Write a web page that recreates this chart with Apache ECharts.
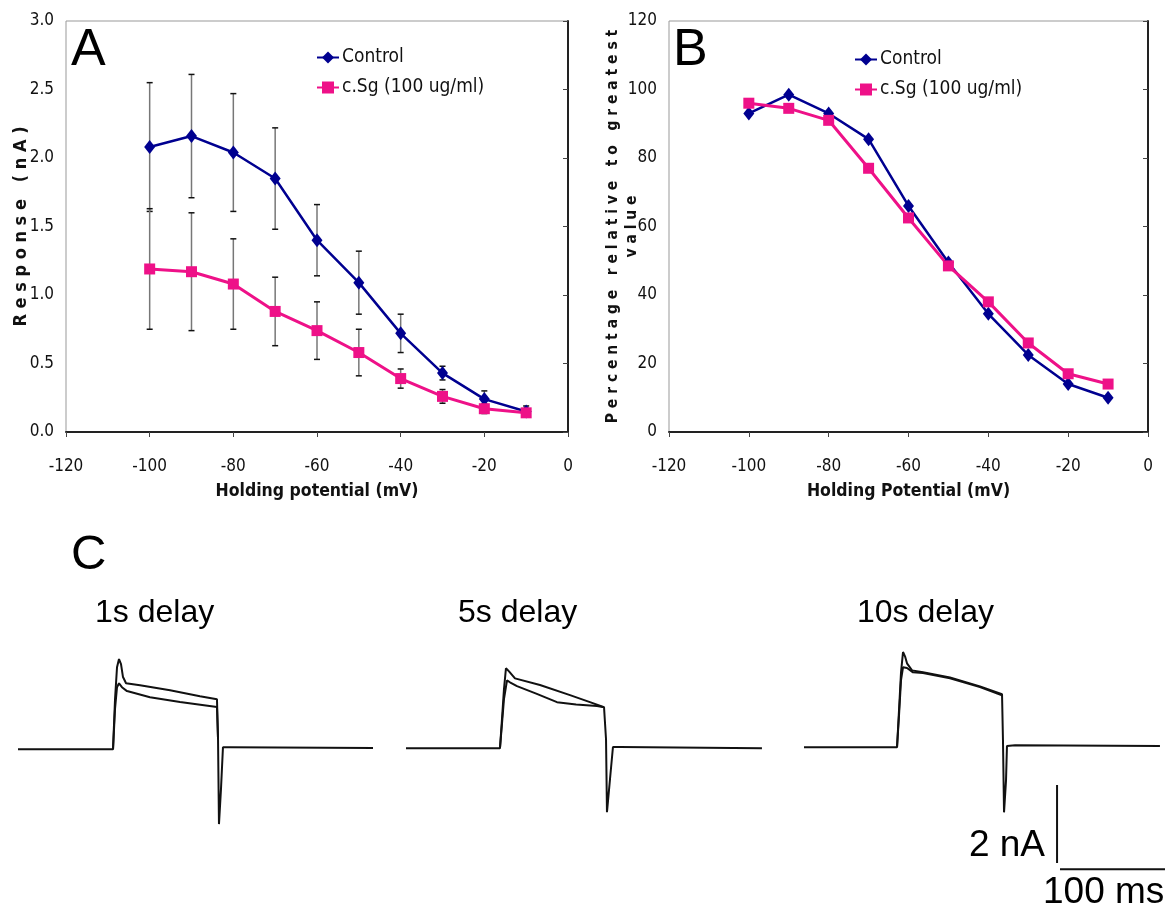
<!DOCTYPE html>
<html>
<head>
<meta charset="utf-8">
<script src="https://cdn.jsdelivr.net/npm/echarts@6/dist/echarts.min.js"></script>
<style>
html,body{margin:0;padding:0;background:#fff;}
#main{width:1171px;height:909px;}
</style>
</head>
<body>
<div id="main"></div>
<script>
// holding potentials (mV)
var potentials = [-100, -90, -80, -70, -60, -50, -40, -30, -20, -10];

// panel A: response (nA) with error bars
var ctrlResp = [2.08, 2.16, 2.04, 1.85, 1.40, 1.09, 0.72, 0.43, 0.24, 0.15];
var ctrlErr  = [0.47, 0.45, 0.43, 0.37, 0.26, 0.23, 0.14, 0.05, 0.06, 0.04];
var sgResp   = [1.19, 1.17, 1.08, 0.88, 0.74, 0.58, 0.39, 0.26, 0.17, 0.14];
var sgErr    = [0.44, 0.43, 0.33, 0.25, 0.21, 0.17, 0.07, 0.05, 0.035, 0.03];

// panel B: percentage relative to greatest value
var ctrlPct = [93, 98.5, 93, 85.5, 66, 49.5, 34.5, 22.5, 14, 10];
var sgPct   = [96, 94.5, 91, 77, 62.5, 48.5, 38, 26, 17, 14];

// panel C: current traces, [time ms, current nA]
var t1a = [[0,0],[90.5,0],[92.4,1.28],[94.3,2.10],[96.2,2.31],[98.1,2.18],[100,1.85],[102.9,1.69],[116.2,1.64],[144.8,1.51],[173.3,1.36],[189.5,1.28],[190.5,0.26],[191.4,-1.92],[193.3,-1.03],[195.2,0.05],[201.9,0.05],[338.1,0.03]];
var t1b = [[90.5,0],[92.4,1.03],[94.3,1.59],[96.2,1.69],[99,1.59],[103.8,1.49],[125.7,1.33],[154.3,1.21],[189.5,1.08],[190.5,0.26]];
var t2a = [[0,0],[89.5,0],[91.4,0.74],[93.3,1.51],[95.2,2.05],[98.1,1.97],[103.8,1.79],[127.6,1.62],[156.2,1.36],[175.2,1.18],[188.6,1.05],[190.5,0.23],[191.4,-1.64],[194.3,-0.79],[197.1,0.03],[203.8,0.03],[339,0]];
var t2b = [[89.5,0],[91.4,0.62],[93.3,1.26],[96.2,1.74],[99,1.69],[105.7,1.59],[124,1.40],[143.8,1.18],[162,1.12],[181.9,1.08],[188.6,1.05]];
var t3a = [[0,0],[88.6,0],[90.5,0.95],[92.4,1.92],[94.3,2.44],[96.2,2.33],[98.1,2.15],[102.9,1.97],[113.3,1.92],[139,1.79],[167.6,1.56],[188.6,1.36],[189.5,0.18],[190.5,-1.67],[192.4,-0.85],[193.3,0.03],[201,0.05],[339,0.03]];
var t3b = [[88.6,0],[90.5,0.82],[92.4,1.72],[94.3,2.05],[98.1,2.03],[103.8,1.92],[113.3,1.90],[139,1.77],[167.6,1.54],[188.6,1.33]];

// scale bar: 2 nA vertical, 100 ms horizontal
var barV = [[241,-0.97],[241,-2.97]];
var barH = [[243.8,-3.13],[343.8,-3.13]];

var tickFont = 'DejaVu Sans Condensed';
var blue = '#000090', pink = '#ee1188';

function pairs(ys){
    return potentials.map(function(x,i){ return [x, ys[i]]; });
}
function errData(ys, es){
    return potentials.map(function(x,i){ return [x, ys[i]-es[i], ys[i]+es[i]]; });
}
function renderErr(params, api){
    var x = api.value(0);
    var lo = api.coord([x, api.value(1)]);
    var hi = api.coord([x, api.value(2)]);
    return {type:'group', children:[
        {type:'line', shape:{x1:lo[0],y1:lo[1],x2:hi[0],y2:hi[1]}, style:{stroke:'#777',lineWidth:1.5}},
        {type:'line', shape:{x1:hi[0]-3,y1:hi[1],x2:hi[0]+3,y2:hi[1]}, style:{stroke:'#111',lineWidth:1.5}},
        {type:'line', shape:{x1:lo[0]-3,y1:lo[1],x2:lo[0]+3,y2:lo[1]}, style:{stroke:'#111',lineWidth:1.5}}
    ]};
}

function xAx(idx){
    return {
        type:'value', gridIndex:idx, min:-120, max:0, interval:20,
        name: idx==0 ? 'Holding potential (mV)' : 'Holding Potential (mV)',
        nameLocation:'middle', nameGap:50, nameMoveOverlap:false,
        nameTextStyle:{fontFamily:tickFont, fontWeight:'bold', fontSize:17.5, color:'#111'},
        axisLine:{lineStyle:{color:'#222', width:2}},
        axisTick:{show:true, length:5, lineStyle:{color:'#444', width:1}},
        axisLabel:{fontFamily:tickFont, fontSize:17, color:'#111', margin:26},
        splitLine:{show:false}
    };
}
function trAxX(idx){
    return {type:'value', gridIndex:idx, min:0, max:346, show:false};
}
function trAxY(idx){
    return {type:'value', gridIndex:idx, min:-3.5, max:2.8, show:false};
}
function trace(idx, data, name){
    return {type:'line', name:name, xAxisIndex:idx, yAxisIndex:idx, data:data, showSymbol:false,
        lineStyle:{color:'#111', width:2}, silent:true, clip:false};
}
function legendAt(left, top){
    return {orient:'vertical', left:left, top:top, itemWidth:22, itemHeight:15, itemGap:11,
        data:['Control','c.Sg (100 ug/ml)'],
        textStyle:{fontFamily:tickFont, fontSize:19, color:'#111', padding:[0,0,0,-2]}};
}

var myChart = echarts.init(document.getElementById('main'));
var option = {
    animation:false,
    backgroundColor:'#fff',
    grid:[
        {left:66, top:21, width:502, height:411, show:true, borderColor:'#999', borderWidth:1},
        {left:669, top:21, width:479, height:411, show:true, borderColor:'#999', borderWidth:1},
        {left:18, top:640, width:363.3, height:245.7},
        {left:406, top:639, width:363.3, height:245.7},
        {left:804, top:638, width:363.3, height:245.7}
    ],
    legend:[legendAt(311, 43), legendAt(849, 45)],
    xAxis:[xAx(0), xAx(1), trAxX(2), trAxX(3), trAxX(4)],
    yAxis:[
        {type:'value', gridIndex:0, min:0, max:3, interval:0.5,
            name:'R e s p o n s e   ( n A )', nameLocation:'middle', nameGap:36, nameRotate:90, nameMoveOverlap:false,
            nameTextStyle:{fontFamily:tickFont, fontWeight:'bold', fontSize:18, color:'#111'},
            axisLine:{show:true, lineStyle:{color:'#222', width:2}},
            axisTick:{show:true, length:5, lineStyle:{color:'#444'}},
            axisLabel:{fontFamily:tickFont, fontSize:17, color:'#111', margin:12, formatter:function(v){ return v.toFixed(1); }},
            splitLine:{show:false}},
        {type:'value', gridIndex:1, min:0, max:120, interval:20,
            name:'P e r c e n t a g e   r e l a t i v e   t o   g r e a t e s t\nv a l u e', nameLocation:'middle', nameGap:28, nameRotate:90, nameMoveOverlap:false,
            nameTextStyle:{fontFamily:tickFont, fontWeight:'bold', fontSize:15.5, color:'#111', lineHeight:19},
            axisLine:{show:true, lineStyle:{color:'#222', width:2}},
            axisTick:{show:true, length:5, lineStyle:{color:'#444'}},
            axisLabel:{fontFamily:tickFont, fontSize:17, color:'#111', margin:12},
            splitLine:{show:false}},
        trAxY(2), trAxY(3), trAxY(4)
    ],
    graphic:[
        {type:'text', left:71, top:25, style:{text:'A', font:'52px "Liberation Sans"', fill:'#000'}},
        {type:'text', left:673, top:25, style:{text:'B', font:'52px "Liberation Sans"', fill:'#000'}},
        {type:'text', left:71, top:531, style:{text:'C', font:'49px "Liberation Sans"', fill:'#000'}},
        {type:'text', left:95, top:597, style:{text:'1s delay', font:'32px "Liberation Sans"', fill:'#000'}},
        {type:'text', left:458, top:597, style:{text:'5s delay', font:'32px "Liberation Sans"', fill:'#000'}},
        {type:'text', left:857, top:597, style:{text:'10s delay', font:'32px "Liberation Sans"', fill:'#000'}},
        {type:'text', right:1171-1045, top:827, style:{text:'2 nA', font:'37px "Liberation Sans"', fill:'#000'}},
        {type:'text', left:1043, top:874, style:{text:'100 ms', font:'37px "Liberation Sans"', fill:'#000'}}
    ],
    series:[
        {type:'custom', name:'errCtrl', xAxisIndex:0, yAxisIndex:0, renderItem:renderErr, data:errData(ctrlResp, ctrlErr), encode:{x:0, y:[1,2]}, z:1, silent:true},
        {type:'custom', name:'errSg', xAxisIndex:0, yAxisIndex:0, renderItem:renderErr, data:errData(sgResp, sgErr), encode:{x:0, y:[1,2]}, z:1, silent:true},
        {type:'line', name:'Control', xAxisIndex:0, yAxisIndex:0, data:pairs(ctrlResp), symbol:'diamond', symbolSize:[11,14],
            lineStyle:{color:blue, width:2.5}, itemStyle:{color:blue}, z:3},
        {type:'line', name:'c.Sg (100 ug/ml)', xAxisIndex:0, yAxisIndex:0, data:pairs(sgResp), symbol:'rect', symbolSize:11,
            lineStyle:{color:pink, width:3}, itemStyle:{color:pink}, z:3},
        {type:'line', name:'Control', xAxisIndex:1, yAxisIndex:1, data:pairs(ctrlPct), symbol:'diamond', symbolSize:[11,14],
            lineStyle:{color:blue, width:2.5}, itemStyle:{color:blue}, z:3},
        {type:'line', name:'c.Sg (100 ug/ml)', xAxisIndex:1, yAxisIndex:1, data:pairs(sgPct), symbol:'rect', symbolSize:11,
            lineStyle:{color:pink, width:3}, itemStyle:{color:pink}, z:3},
        trace(2, t1a, 't1a'), trace(2, t1b, 't1b'),
        trace(3, t2a, 't2a'), trace(3, t2b, 't2b'),
        trace(4, t3a, 't3a'), trace(4, t3b, 't3b'),
        trace(4, barV, 'barV'), trace(4, barH, 'barH')
    ]
};
myChart.setOption(option);
</script>
</body>
</html>
